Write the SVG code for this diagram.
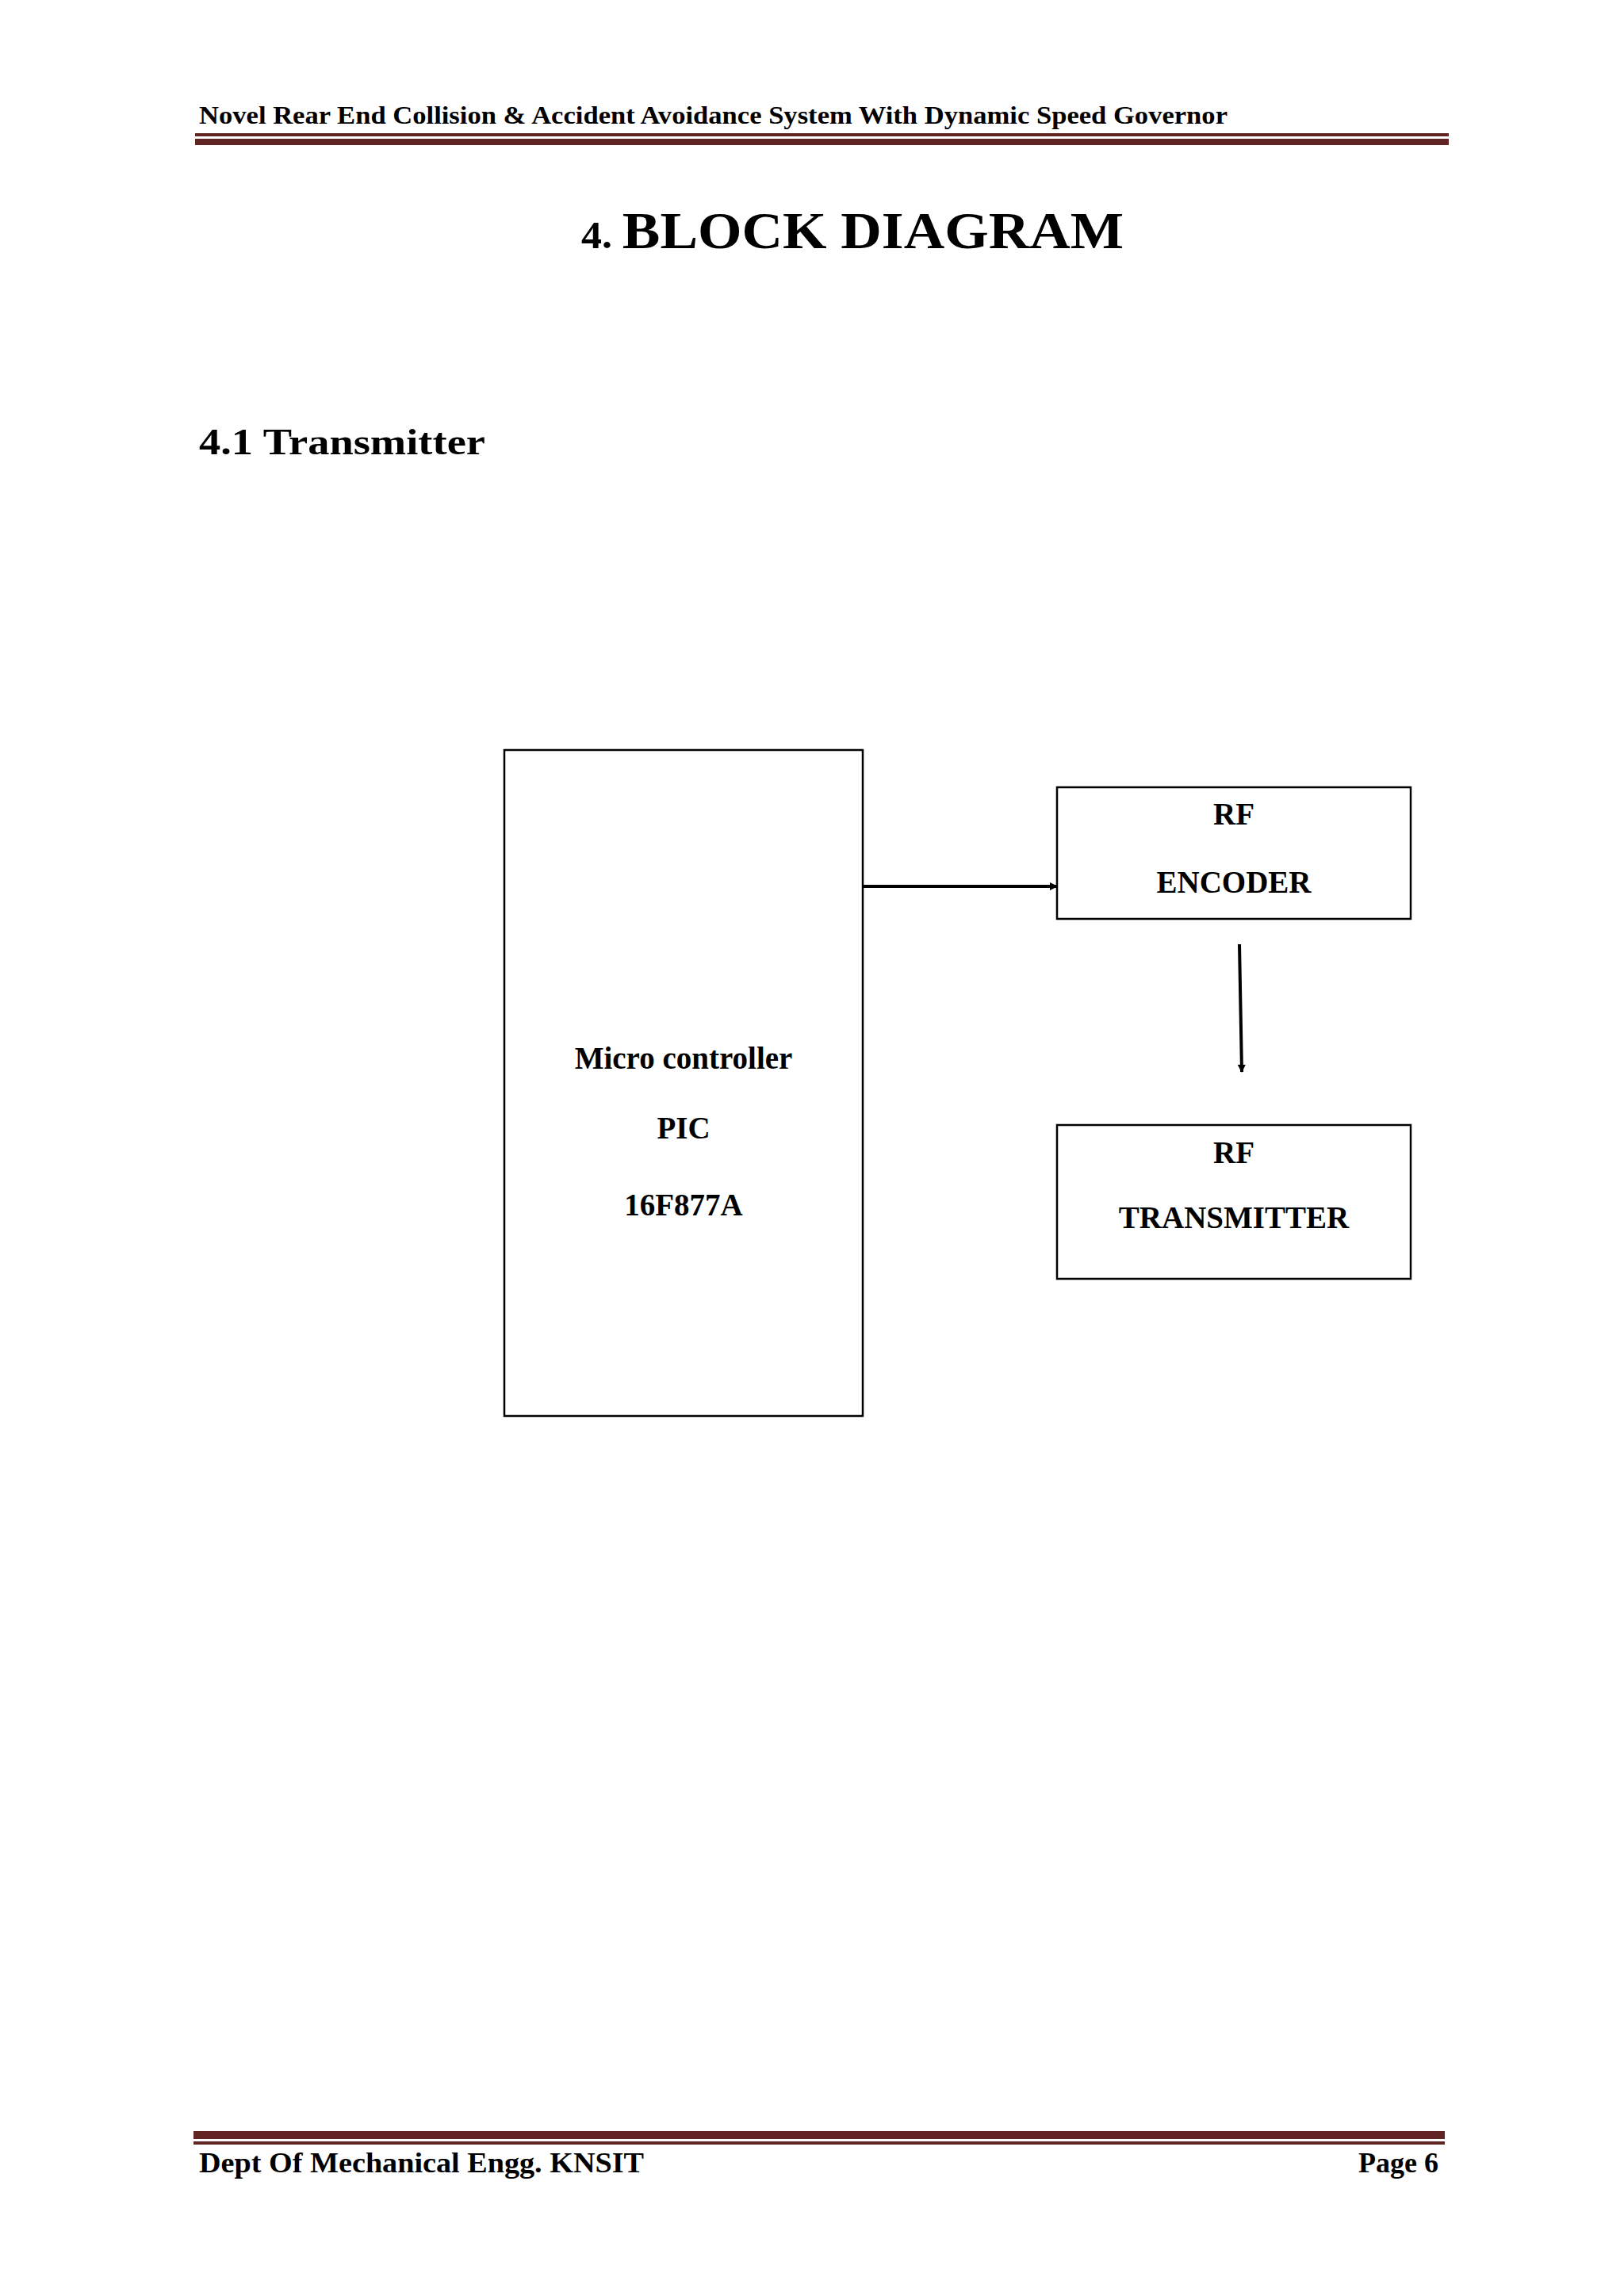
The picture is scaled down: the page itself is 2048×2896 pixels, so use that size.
<svg xmlns="http://www.w3.org/2000/svg" width="2048" height="2896" viewBox="0 0 2048 2896">
<style>
text{font-family:"Liberation Serif","Times New Roman",serif;font-weight:bold;fill:#000}
.lbl{font-size:39px;text-anchor:middle}
.box{fill:none;stroke:#000;stroke-width:2.5}
.bar{fill:#622423}
</style>
<defs><marker id="ah" markerWidth="10" markerHeight="10" refX="9" refY="5" orient="auto" markerUnits="userSpaceOnUse"><path d="M0,0 L10,5 L0,10 z" fill="#000"/></marker></defs>
<rect width="2048" height="2896" fill="#fff"/>
<text x="251" y="156" font-size="31" textLength="1297" lengthAdjust="spacingAndGlyphs">Novel  Rear End  Collision &amp; Accident  Avoidance  System With Dynamic  Speed Governor</text>
<rect class="bar" x="246" y="168" width="1581" height="4"/>
<rect class="bar" x="246" y="175" width="1581" height="8"/>
<text x="733" y="313" font-size="66" textLength="684" lengthAdjust="spacingAndGlyphs"><tspan font-size="48">4. </tspan>BLOCK DIAGRAM</text>
<text x="251" y="573" font-size="46" textLength="361" lengthAdjust="spacingAndGlyphs">4.1 Transmitter</text>
<g id="mcu"><rect class="box" x="636" y="946" width="452" height="840"/>
<text class="lbl" x="862" y="1348">Micro controller</text><text class="lbl" x="862" y="1436">PIC</text><text class="lbl" x="862" y="1533">16F877A</text></g>
<g id="encoder"><rect class="box" x="1333" y="993" width="446" height="166"/>
<text class="lbl" x="1556" y="1040">RF</text><text class="lbl" x="1556" y="1126">ENCODER</text></g>
<g id="transmitter"><rect class="box" x="1333" y="1419" width="446" height="194"/>
<text class="lbl" x="1556" y="1467">RF</text><text class="lbl" x="1556" y="1549">TRANSMITTER</text></g>
<g id="connectors" stroke="#000" stroke-width="4" fill="none">
<line x1="1088" y1="1118" x2="1333" y2="1118" marker-end="url(#ah)"/>
<line x1="1563" y1="1191" x2="1566" y2="1352" marker-end="url(#ah)"/>
</g>
<rect class="bar" x="244" y="2688" width="1578" height="10"/>
<rect class="bar" x="244" y="2701" width="1578" height="4"/>
<text x="251" y="2740" font-size="36" textLength="561" lengthAdjust="spacingAndGlyphs">Dept Of Mechanical Engg. KNSIT</text>
<text x="1814" y="2740" font-size="36" text-anchor="end">Page  6</text>
</svg>
